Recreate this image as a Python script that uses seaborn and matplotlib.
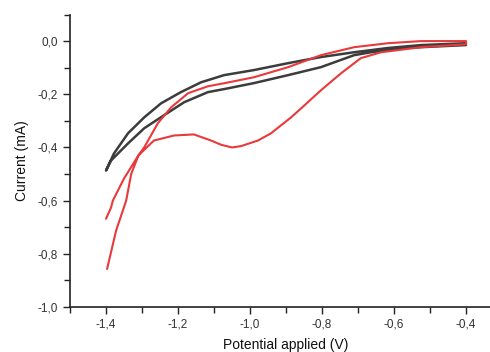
import matplotlib
matplotlib.use("Agg")
import matplotlib.pyplot as plt
import seaborn as sns
import pandas as pd
from matplotlib.ticker import MultipleLocator, FuncFormatter

# ---- data ----
black_v = [-0.40, -0.525, -0.617, -0.711, -0.803, -0.894, -0.989, -1.072, -1.136, -1.192,
           -1.247, -1.294, -1.339, -1.378, -1.40,
           -1.386, -1.339, -1.294, -1.239, -1.183, -1.117, -1.07, -0.989, -0.894, -0.803,
           -0.711, -0.664, -0.572, -0.40]
black_i = [-0.008, -0.015, -0.026, -0.042, -0.06, -0.083, -0.109, -0.128, -0.155, -0.192,
           -0.234, -0.287, -0.347, -0.423, -0.487,
           -0.449, -0.385, -0.328, -0.279, -0.230, -0.192, -0.18, -0.158, -0.128, -0.098,
           -0.053, -0.042, -0.026, -0.015]

red_v = [-1.40, -1.386, -1.381, -1.35, -1.31, -1.294, -1.256, -1.219, -1.172, -1.117,
         -1.07, -0.989, -0.894, -0.803, -0.711, -0.617, -0.525, -0.40,
         -0.40, -0.525, -0.636, -0.692, -0.747, -0.803, -0.858, -0.886, -0.942, -0.978,
         -1.025, -1.05, -1.08, -1.108, -1.156, -1.211, -1.267, -1.31, -1.33, -1.344,
         -1.372, -1.397]
red_i = [-0.668, -0.626, -0.60, -0.517, -0.43, -0.40, -0.309, -0.249, -0.196, -0.17,
         -0.158, -0.136, -0.098, -0.053, -0.023, -0.008, 0.0, 0.0,
         -0.012, -0.023, -0.042, -0.064, -0.121, -0.185, -0.253, -0.287, -0.347, -0.374,
         -0.395, -0.40, -0.39, -0.374, -0.351, -0.355, -0.374, -0.43, -0.50, -0.60,
         -0.713, -0.857]

x_ticks = [-1.4, -1.2, -1.0, -0.8, -0.6, -0.4]
y_ticks = [0.0, -0.2, -0.4, -0.6, -0.8, -1.0]

black_df = pd.DataFrame({"Potential": black_v, "Current": black_i})
red_df = pd.DataFrame({"Potential": red_v, "Current": red_i})

sns.set_style("ticks")
plt.rcParams["font.family"] = ["Liberation Sans", "DejaVu Sans"]

fig = plt.figure(figsize=(4.9, 3.52), dpi=100)
ax = fig.add_axes([70 / 490, 45 / 352, 432 / 490, 292.5 / 352])

sns.lineplot(data=black_df, x="Potential", y="Current", sort=False, estimator=None,
             ax=ax, color="#3c3c3c", linewidth=1.8)
sns.lineplot(data=red_df, x="Potential", y="Current", sort=False, estimator=None,
             ax=ax, color="#e8393b", linewidth=1.5)

ax.set_xlim(-1.5, -0.3)
ax.set_ylim(-1.0, 0.1)
ax.set_xticks(x_ticks)
ax.set_yticks(y_ticks)
ax.xaxis.set_minor_locator(MultipleLocator(0.1))
ax.yaxis.set_minor_locator(MultipleLocator(0.1))
fmt = FuncFormatter(lambda v, p: f"{v:.1f}".replace(".", ",").replace("-0,0", "0,0"))
ax.xaxis.set_major_formatter(fmt)
ax.yaxis.set_major_formatter(fmt)

for s in ["top", "right"]:
    ax.spines[s].set_visible(False)
for s in ["left", "bottom"]:
    ax.spines[s].set_linewidth(1.2)
    ax.spines[s].set_color("#222222")

ax.tick_params(which="major", direction="out", length=5, width=1.0, color="#222222",
               labelsize=8.5, labelcolor="#333333", pad=4)
ax.tick_params(which="minor", direction="out", length=4, width=1.0, color="#222222")
ax.tick_params(axis="x", which="major", pad=3)

ax.set_xlabel("Potential applied (V)", fontsize=10, color="#111111", labelpad=6)
ax.set_ylabel("Current (mA)", fontsize=10, color="#111111", labelpad=6)

fig.savefig("out.png", dpi=100)
